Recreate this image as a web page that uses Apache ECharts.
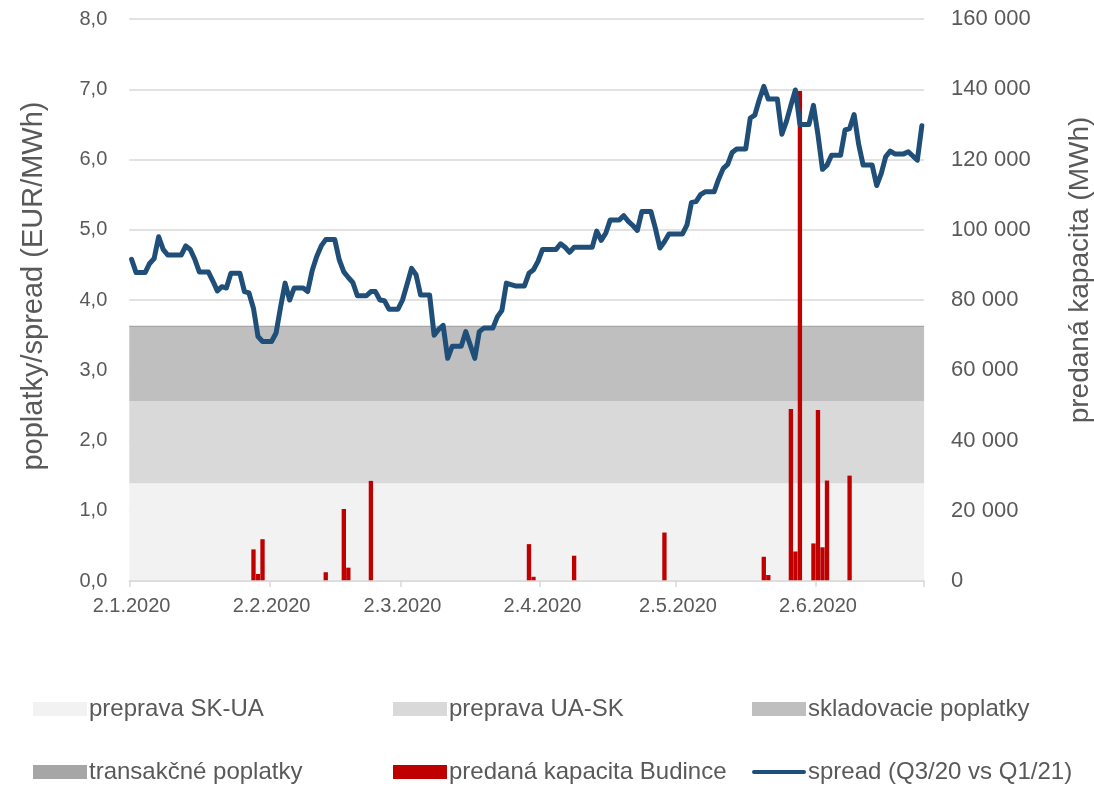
<!DOCTYPE html>
<html>
<head>
<meta charset="utf-8">
<script src="https://cdn.jsdelivr.net/npm/echarts@6/dist/echarts.min.js"></script>
<style>html,body{margin:0;padding:0;background:#fff}#c{width:1094px;height:787px}</style>
</head>
<body>
<div id="c"></div>
<script>
// ---- data ----
var startDate = [2020, 1, 2];   // 2.1.2020, one category per calendar day
var dayCount = 176;             // 2.1.2020 .. 25.6.2020
var tickLabelDates = ['2.1.2020', '2.2.2020', '2.3.2020', '2.4.2020', '2.5.2020', '2.6.2020'];

var bandNames = ['preprava SK-UA', 'preprava UA-SK', 'skladovacie poplatky', 'transakčné poplatky'];
var bandValues = [1.39, 1.17, 1.055, 0.02];   // EUR/MWh, stacked
var bandColors = ['#F2F2F2', '#D9D9D9', '#BFBFBF', '#A6A6A6'];

var barName = 'predaná kapacita Budince';
var barDates = ['29.1.2020', '30.1.2020', '31.1.2020', '14.2.2020', '18.2.2020', '19.2.2020', '24.2.2020',
  '30.3.2020', '31.3.2020', '9.4.2020', '29.4.2020', '21.5.2020', '22.5.2020', '27.5.2020', '28.5.2020',
  '29.5.2020', '1.6.2020', '2.6.2020', '3.6.2020', '4.6.2020', '9.6.2020'];
var barValues = [9000, 2000, 11900, 2500, 20500, 3800, 28500,
  10500, 1200, 7200, 13800, 6900, 1700, 49000, 8400,
  139500, 10700, 48700, 9600, 28600, 30000];

var lineName = 'spread (Q3/20 vs Q1/21)';
var spreadValues = [
  4.58, 4.39, 4.39, 4.39, 4.52, 4.59, 4.90, 4.72, 4.64, 4.64,
  4.64, 4.64, 4.77, 4.72, 4.58, 4.40, 4.40, 4.40, 4.27, 4.13,
  4.19, 4.17, 4.38, 4.38, 4.38, 4.12, 4.10, 3.88, 3.48, 3.41,
  3.41, 3.41, 3.53, 3.90, 4.24, 4.00, 4.17, 4.17, 4.17, 4.12,
  4.42, 4.62, 4.77, 4.86, 4.86, 4.86, 4.57, 4.40, 4.32, 4.25,
  4.06, 4.06, 4.06, 4.12, 4.12, 4.00, 3.99, 3.87, 3.87, 3.87,
  4.00, 4.22, 4.45, 4.36, 4.07, 4.07, 4.07, 3.50, 3.58, 3.64,
  3.17, 3.34, 3.34, 3.34, 3.55, 3.36, 3.17, 3.55, 3.60, 3.60,
  3.60, 3.76, 3.85, 4.24, 4.22, 4.20, 4.20, 4.20, 4.38, 4.43,
  4.55, 4.72, 4.72, 4.72, 4.72, 4.80, 4.75, 4.68, 4.75, 4.75,
  4.75, 4.75, 4.75, 4.98, 4.85, 4.95, 5.14, 5.14, 5.14, 5.20,
  5.12, 5.06, 4.99, 5.26, 5.26, 5.26, 5.02, 4.74, 4.83, 4.94,
  4.94, 4.94, 4.94, 5.07, 5.39, 5.40, 5.50, 5.54, 5.54, 5.54,
  5.72, 5.87, 5.93, 6.10, 6.15, 6.15, 6.15, 6.59, 6.63, 6.85,
  7.04, 6.86, 6.86, 6.86, 6.36, 6.54, 6.77, 6.99, 6.50, 6.50,
  6.50, 6.77, 6.35, 5.86, 5.92, 6.06, 6.06, 6.06, 6.42, 6.44,
  6.64, 6.22, 5.92, 5.92, 5.92, 5.63, 5.80, 6.04, 6.12, 6.08,
  6.08, 6.08, 6.11, 6.05, 5.99, 6.48
];

var leftAxisName = 'poplatky/spread (EUR/MWh)';
var rightAxisName = 'predaná kapacita (MWh)';

// ---- build ----
var categories = [];
(function () {
  var d = new Date(startDate[0], startDate[1] - 1, startDate[2]);
  for (var i = 0; i < dayCount; i++) {
    categories.push(d.getDate() + '.' + (d.getMonth() + 1) + '.' + d.getFullYear());
    d.setDate(d.getDate() + 1);
  }
})();
var barData = categories.map(function (c) {
  var i = barDates.indexOf(c);
  return i >= 0 ? barValues[i] : null;
});
var tickIdx = tickLabelDates.map(function (t) { return categories.indexOf(t); });

var FONT = '"Liberation Sans", Arial, sans-serif';
var TXT = '#595959';

var series = [];
var cum = 0;
bandNames.forEach(function (n, i) {
  var lo = cum, hi = cum + bandValues[i];
  cum = hi;
  series.push({
    name: n, type: 'line', yAxisIndex: 0, data: [], z: 1,
    itemStyle: { color: bandColors[i] }, lineStyle: { width: 0 }, symbol: 'none',
    markArea: {
      silent: true,
      itemStyle: { color: bandColors[i], opacity: 1 },
      data: [[{ yAxis: lo }, { yAxis: hi }]]
    }
  });
});
series.push({
  name: barName, type: 'bar', yAxisIndex: 1, data: barData, z: 2,
  barCategoryGap: '4%', itemStyle: { color: '#C00000' }
});
series.push({
  name: lineName, type: 'line', yAxisIndex: 0, data: spreadValues, z: 3,
  showSymbol: false, symbol: 'none',
  lineStyle: { color: '#1F4E79', width: 5, join: 'round', cap: 'round' },
  itemStyle: { color: '#1F4E79' }
});

function legendAt(name, left, top, icon, h) {
  return {
    data: [name], left: left, top: top, itemWidth: 54, itemHeight: h, icon: icon,
    itemGap: 0, selectedMode: false, padding: 0,
    textStyle: { fontFamily: FONT, fontSize: 24, color: TXT, padding: [0, 0, 0, -3] }
  };
}

var option = {
  animation: false,
  backgroundColor: '#ffffff',
  textStyle: { fontFamily: FONT },
  grid: { left: 129.3, right: 169.9, top: 19, bottom: 206, containLabel: false },
  legend: [
    legendAt(bandNames[0], 33, 697, 'rect', 14),
    legendAt(bandNames[1], 393, 697, 'rect', 14),
    legendAt(bandNames[2], 752, 697, 'rect', 14),
    legendAt(bandNames[3], 33, 760, 'rect', 14),
    legendAt(barName, 393, 760, 'rect', 14),
    legendAt(lineName, 752, 760, 'path://M2,0 L52,0 A2,2 0 0 1 52,4 L2,4 A2,2 0 0 1 2,0 Z', 5)
  ],
  graphic: [
    { type: 'text', x: 34, y: 286, rotation: Math.PI / 2, z: 10,
      style: { text: leftAxisName, fontSize: 29, fontFamily: FONT, fill: TXT, align: 'center', verticalAlign: 'middle' } },
    { type: 'text', x: 1080, y: 270, rotation: Math.PI / 2, z: 10,
      style: { text: rightAxisName, fontSize: 28, fontFamily: FONT, fill: TXT, align: 'center', verticalAlign: 'middle' } }
  ],
  xAxis: {
    type: 'category', data: categories, boundaryGap: true, z: 5,
    axisLine: { lineStyle: { color: '#D9D9D9', width: 1.5 } },
    axisTick: { show: true, length: 6, lineStyle: { color: '#D9D9D9', width: 1.5 },
      interval: function (i) { return tickIdx.indexOf(i) >= 0; } },
    axisLabel: { color: TXT, fontSize: 20, fontFamily: FONT, margin: 15,
      interval: function (i) { return tickIdx.indexOf(i) >= 0; } },
    splitLine: { show: false }
  },
  yAxis: [
    {
      type: 'value', min: 0, max: 8, interval: 1, position: 'left',
      axisLine: { show: false }, axisTick: { show: false },
      axisLabel: { color: TXT, fontSize: 20, fontFamily: FONT, margin: 22,
        formatter: function (v) { return v.toFixed(1).replace('.', ','); } },
      splitLine: { lineStyle: { color: '#D9D9D9', width: 1.5 } }
    },
    {
      type: 'value', min: 0, max: 160000, interval: 20000, position: 'right',
      axisLine: { show: false }, axisTick: { show: false },
      axisLabel: { color: TXT, fontSize: 22, fontFamily: FONT, margin: 27,
        formatter: function (v) { return String(v).replace(/\B(?=(\d{3})+(?!\d))/g, ' '); } },
      splitLine: { show: false }
    }
  ],
  series: series
};

var chart = echarts.init(document.getElementById('c'), null, { renderer: 'canvas' });
chart.setOption(option);
</script>
</body>
</html>
